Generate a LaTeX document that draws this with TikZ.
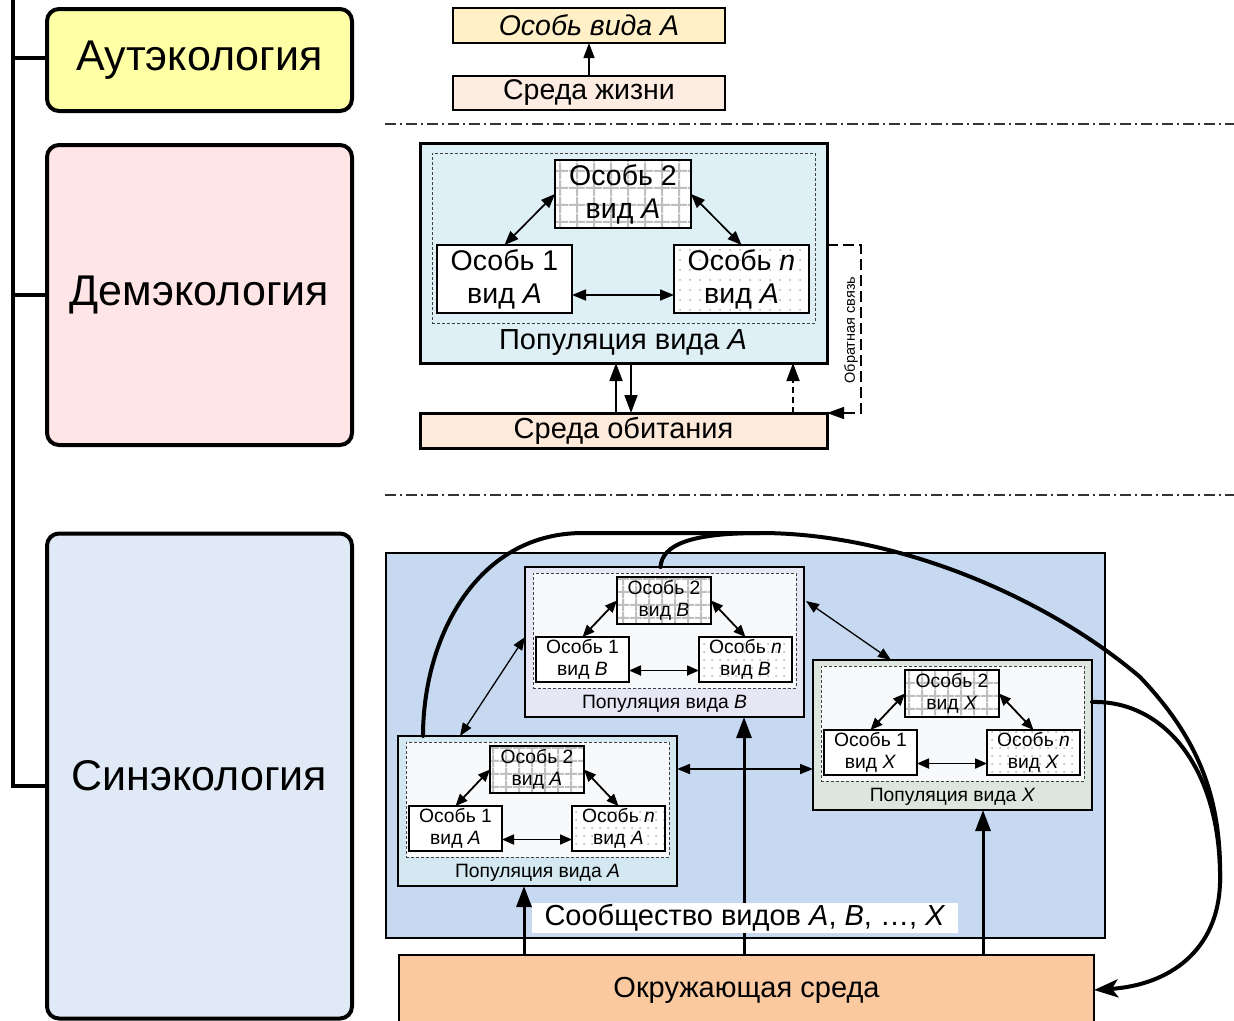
\documentclass[tikz,border=0pt]{standalone}
\usepackage{fontspec}
\setmainfont{Liberation Sans}
\usetikzlibrary{arrows.meta,calc,patterns.meta}

\definecolor{autfill}{RGB}{255,255,166}
\definecolor{demfill}{RGB}{255,229,229}
\definecolor{synfill}{RGB}{224,234,247}
\definecolor{indfill}{RGB}{255,240,200}
\definecolor{lifefill}{RGB}{253,236,225}
\definecolor{popdfill}{RGB}{222,240,245}
\definecolor{habfill}{RGB}{253,234,218}
\definecolor{commfill}{RGB}{198,217,241}
\definecolor{popbfill}{RGB}{230,230,245}
\definecolor{popafill}{RGB}{211,232,240}
\definecolor{popxfill}{RGB}{220,230,223}
\definecolor{innerfill}{RGB}{248,249,251}
\definecolor{envfill}{RGB}{250,201,160}

\tikzset{
  branchbox/.style={draw, line width=4pt, rounded corners=12pt, minimum width=305pt,
    font=\fontsize{43}{50}\selectfont},
  trunk/.style={line width=4pt},
  plainbox/.style={draw, line width=2pt},
  ind/.style={draw, line width=1.5pt, fill=white, align=center,
    minimum width=93pt, minimum height=45pt, font=\fontsize{19.3}{22}\selectfont},
  bigind/.style={ind, line width=2pt, minimum width=135pt, minimum height=68pt,
    font=\fontsize{28.5}{33}\selectfont},
  gridfill/.style={preaction={fill=white}, pattern={Hatch[angle=0,distance=#1,line width=2.2pt]},
    pattern color=black!25},
  dotfill/.style={preaction={fill=white}, pattern={Dots[distance=#1,radius=1pt]},
    pattern color=black!30},
  popouter/.style={draw, line width=1.8pt, minimum width=279pt, minimum height=150pt},
  popinner/.style={draw=black!75, line width=1pt, dash pattern=on 3pt off 2pt,
    fill=innerfill, minimum width=263pt, minimum height=115pt},
  poplabel/.style={font=\fontsize{19.3}{22}\selectfont},
  dbl/.style={line width=1.8pt, {Triangle[length=12pt,width=10pt]}-{Triangle[length=12pt,width=10pt]}},
  dblbig/.style={line width=1.7pt, {Triangle[length=14pt,width=11pt]}-{Triangle[length=14pt,width=11pt]}},
  dblmid/.style={line width=1.3pt, {Triangle[length=13pt,width=10pt]}-{Triangle[length=13pt,width=10pt]}},
  uparr/.style={line width=1.8pt, -{Triangle[length=18pt,width=13pt]}},
  thickup/.style={line width=3pt, -{Triangle[length=21pt,width=15pt]}},
  fbline/.style={line width=1.3pt, dash pattern=on 11pt off 5pt, -{Triangle[length=17pt,width=12pt]}},
  sepline/.style={line width=1.4pt, black!80, dash pattern=on 11pt off 4pt on 2pt off 4pt},
  curve/.style={line width=4pt, line cap=round},
  curvetip/.style={-{Stealth[length=24pt,width=18pt,inset=6pt]}},
}

% one population: outer frame, dashed group of three individuals, caption, links
\newcommand\popgroup[5]{%
  \begin{scope}[shift={(#2,#3)}]
    \node[popouter, fill=#4] (#1) at (139.5,75) {};
    \node[popinner] (#1-in) at (139.5,63.5) {};
    \node[ind, gridfill=13pt, minimum width=94pt, minimum height=47pt] (#1-2) at (139,33.5) {Особь 2\\вид \textit{#5}};
    \node[ind] (#1-1) at (57.5,92.5) {Особь 1\\вид \textit{#5}};
    \node[ind, dotfill=8pt] (#1-n) at (220.5,92.5) {Особь \textit{n}\\вид \textit{#5}};
    \node[poplabel] (#1-lab) at (139.5,137) {Популяция вида \textit{#5}};
  \end{scope}
  \draw[dbl] (#1-1.north) -- (#1-2.west);
  \draw[dbl] (#1-2.east) -- (#1-n.north);
  \draw[dbl] ($(#1-1.east)+(0,11)$) -- ($(#1-n.west)+(0,11)$);
}

\begin{document}
\begin{tikzpicture}[x=1pt, y=-1pt, every node/.style={inner sep=0pt, outer sep=0pt}]
\useasboundingbox (0,0) rectangle (1234,1020);

% ---- branches of ecology ----
\node[branchbox, fill=autfill, minimum height=102pt] (aut) at (199.5,60) {Аутэкология};
\node[branchbox, fill=demfill, minimum height=300pt] (dem) at (199.5,295) {Демэкология};
\node[branchbox, fill=synfill, minimum height=485pt] (syn) at (199.5,776) {Синэкология};
\coordinate (trunktop) at (13,0);
\coordinate (trunkbot) at (13,786);
\draw[trunk] (trunktop) -- (trunkbot) -- (trunkbot -| syn.west);
\draw[trunk] ($(aut.west)+(0,-2)$) -- ($(aut.west -| trunktop)+(0,-2)$);
\draw[trunk] (dem.west) -- (dem.west -| trunktop);

% ---- autecology ----
\node[plainbox, fill=indfill, minimum width=272pt, minimum height=35pt,
  font=\fontsize{28.5}{32}\selectfont\itshape] (indA) at (589,25.5) {Особь вида A};
\node[plainbox, fill=lifefill, minimum width=272pt, minimum height=34pt,
  font=\fontsize{28.5}{32}\selectfont] (lifeenv) at (589,93) {Среда жизни};
\draw[uparr, line width=1.4pt, -{Triangle[length=15pt,width=11pt]}] (lifeenv.north) -- (indA.south);

% ---- separators ----
\coordinate (sepAl) at (385,124);
\coordinate (sepAr) at (1234,124);
\coordinate (sepBl) at (385,495);
\coordinate (sepBr) at (1234,495);
\draw[sepline] (sepAl) -- (sepAr);
\draw[sepline] (sepBl) -- (sepBr);

% ---- demecology ----
\node[plainbox, line width=3pt, fill=popdfill, minimum width=407pt, minimum height=220pt] (popD) at (623.5,253) {};
\node[draw=black!75, line width=1pt, dash pattern=on 3pt off 2pt, minimum width=383pt, minimum height=170pt] (popD-in) at (623.5,238) {};
\node[bigind, gridfill=17pt, minimum width=136pt] (dI2) at (623,194) {Особь 2\\вид \textit{A}};
\node[bigind] (dI1) at (504.5,279) {Особь 1\\вид \textit{A}};
\node[bigind, dotfill=10pt] (dIn) at (741.5,279) {Особь \textit{n}\\вид \textit{A}};
\node[font=\fontsize{29}{33}\selectfont] (popD-lab) at (623,343) {Популяция вида \textit{A}};
\node[plainbox, line width=3pt, fill=habfill, minimum width=407pt, minimum height=35pt,
  font=\fontsize{29}{33}\selectfont] (habenv) at (623.5,430.5) {Среда обитания};

\draw[dblbig] (dI1.north) -- (dI2.west);
\draw[dblbig] (dI2.east) -- (dIn.north);
\draw[dblbig] ($(dI1.east)+(0,16)$) -- ($(dIn.west)+(0,16)$);
\draw[uparr] ($(habenv.north)+(-7.5,0)$) -- ($(popD.south)+(-7.5,0)$);
\draw[uparr] ($(popD.south)+(7.5,0)$) -- ($(habenv.north)+(7.5,0)$);
\draw[uparr, dash pattern=on 6pt off 4pt] ($(habenv.north)+(169.5,0)$) -- ($(popD.south)+(169.5,0)$);
\draw[fbline] ($(popD.east)+(0,-8)$) -- ++(34,0) |- (habenv.north east);
\node[rotate=90, font=\fontsize{14.5}{16}\selectfont] (fblab) at (851,330) {Обратная связь};

% ---- synecology ----
\node[plainbox, line width=2.5pt, fill=commfill, minimum width=719pt, minimum height=385pt] (comm) at (745.5,745.5) {};
\node[plainbox, line width=2.5pt, fill=envfill, minimum width=695pt, minimum height=70pt,
  font=\fontsize{29}{33}\selectfont] (envS) at (746.5,990) {Окружающая среда};

\popgroup{popB}{525}{567}{popbfill}{B}
\popgroup{popA}{398}{736}{popafill}{A}
\popgroup{popX}{813}{660}{popxfill}{X}

% links between populations
\draw[dblmid] ($(popA.north west)+(62,0)$) -- ($(popB.north west)+(0,70)$);
\draw[dblmid] ($(popB.north east)+(2,34)$) -- ($(popX.north west)+(78,0)$);
\draw[dblmid, line width=1.6pt] ($(popA.north east)+(0,33)$) -- ($(popX.north west)+(0,109)$);

% environment acts on every population
\coordinate (ua) at (524,0);
\coordinate (ub) at (744,0);
\coordinate (ux) at (983,0);
\draw[thickup] (envS.north -| ua) -- (popA.south -| ua);
\draw[thickup] (envS.north -| ub) -- (popB.south -| ub);
\draw[thickup] (envS.north -| ux) -- (popX.south -| ux);

\node[fill=white, minimum width=426pt, minimum height=30pt, font=\fontsize{29}{32}\selectfont] (commlab) at (745,918)
  {Сообщество видов \textit{A}, \textit{B}, …, \textit{X}};

% feedback of the populations on the environment
\coordinate (cA) at ($(popA.north west)+(25,0)$);
\coordinate (cB) at ($(popB.north)+(-4,0)$);
\coordinate (cX) at ($(popX.north east)+(0,42)$);
\draw[curve, curvetip] (cA) .. controls (423,640) and (475,533) .. (583,533) -- (760,533)
  .. controls (900,533) and (1050,600) .. (1140,677)
  .. controls (1200,740) and (1222,800) .. (1220,883)
  .. controls (1218,950) and (1170,985) .. (envS.east);
\draw[curve] (cB) .. controls (662,545) and (690,533) .. (760,533);
\draw[curve] (cX) .. controls (1165,700) and (1222,770) .. (1220,883);
\end{tikzpicture}
\end{document}
